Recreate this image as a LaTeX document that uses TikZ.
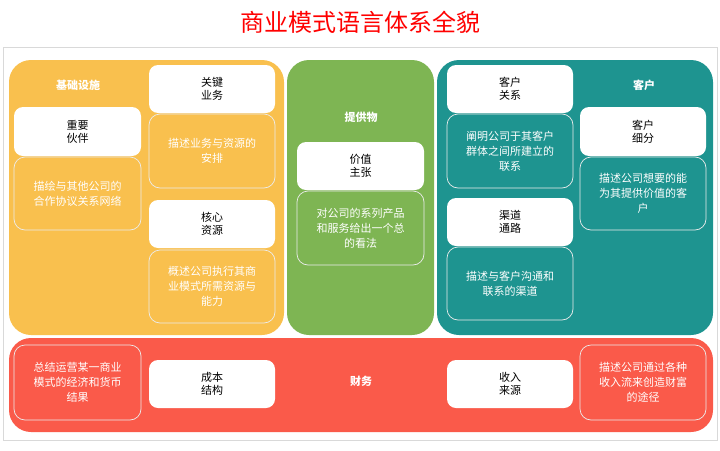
\documentclass[tikz,border=0pt]{standalone}
\usepackage{fontspec}
\setmainfont{Noto Sans CJK SC}
\definecolor{org}{HTML}{F9C04E}
\definecolor{grn}{HTML}{7EB553}
\definecolor{tea}{HTML}{1E9490}
\definecolor{rd}{HTML}{FA5A4A}
\begin{document}
\begin{tikzpicture}[x=1pt,y=-1pt,
 panel/.style={rounded corners=22pt},
 lbl/.style={fill=white,rounded corners=9pt,font=\fontsize{11}{13}\selectfont,align=center},
 dsc/.style={draw=white!85!gray,line width=0.7pt,rounded corners=11pt,text=white,font=\fontsize{11}{14}\selectfont,align=center},
 hd/.style={text=white,font=\fontsize{11}{13}\selectfont\bfseries}]
\useasboundingbox (0,0) rectangle (720,450);
\node[text=red,font=\fontsize{24}{28}\selectfont] (title) at (360,22) {商业模式语言体系全貌};
\draw[gray!30] (3,47) rectangle (717,440);
\fill[org,panel] (9,60) rectangle (284,335);
\fill[grn,panel] (287,60) rectangle (434,335);
\fill[tea,panel] (437,60) rectangle (713,335);
\fill[rd,panel] (9,338) rectangle (713,432);
% helper
\newcommand\lb[6]{\fill[white,rounded corners=9pt] (#1,#2) rectangle (#3,#4); \node[font=\fontsize{11}{13}\selectfont,align=center] (#5) at ({(#1+#3)/2},{(#2+#4)/2}) {#6};}
\newcommand\ds[6]{\draw[white!85!gray,line width=0.7pt,rounded corners=11pt] (#1,#2) rectangle (#3,#4); \node[text=white,font=\fontsize{11}{15}\selectfont,align=center] (#5) at ({(#1+#3)/2},{(#2+#4)/2}) {#6};}
\node[hd] (infra) at (78,85) {基础设施};
\lb{149}{65}{275}{113}{ka}{关键\\业务}
\ds{149}{114}{275}{188}{kad}{描述业务与资源的\\安排}
\lb{14}{107}{141}{156}{kp}{重要\\伙伴}
\ds{14}{157}{141}{230}{kpd}{描绘与其他公司的\\合作协议关系网络}
\lb{149}{200}{275}{248}{kr}{核心\\资源}
\ds{149}{250}{275}{323}{krd}{概述公司执行其商\\业模式所需资源与\\能力}
\node[hd] (offer) at (361,117) {提供物};
\lb{297}{142}{424}{190}{vp}{价值\\主张}
\ds{297}{191}{424}{265}{vpd}{对公司的系列产品\\和服务给出一个总\\的看法}
\lb{447}{65}{573}{113}{cr}{客户\\关系}
\ds{447}{114}{573}{188}{crd}{阐明公司于其客户\\群体之间所建立的\\联系}
\lb{447}{198}{573}{246}{ch}{渠道\\通路}
\ds{447}{247}{573}{320}{chd}{描述与客户沟通和\\联系的渠道}
\node[hd] (cust) at (644,85) {客户};
\lb{580}{107}{706}{156}{cs}{客户\\细分}
\ds{580}{157}{706}{230}{csd}{描述公司想要的能\\为其提供价值的客\\户}
\ds{14}{345}{141}{420}{csdl}{总结运营某一商业\\模式的经济和货币\\结果}
\lb{149}{360}{275}{408}{cost}{成本\\结构}
\node[hd] (fin) at (361,381) {财务};
\lb{447}{360}{573}{408}{rev}{收入\\来源}
\ds{580}{345}{706}{420}{revd}{描述公司通过各种\\收入流来创造财富\\的途径}
\end{tikzpicture}
\end{document}
